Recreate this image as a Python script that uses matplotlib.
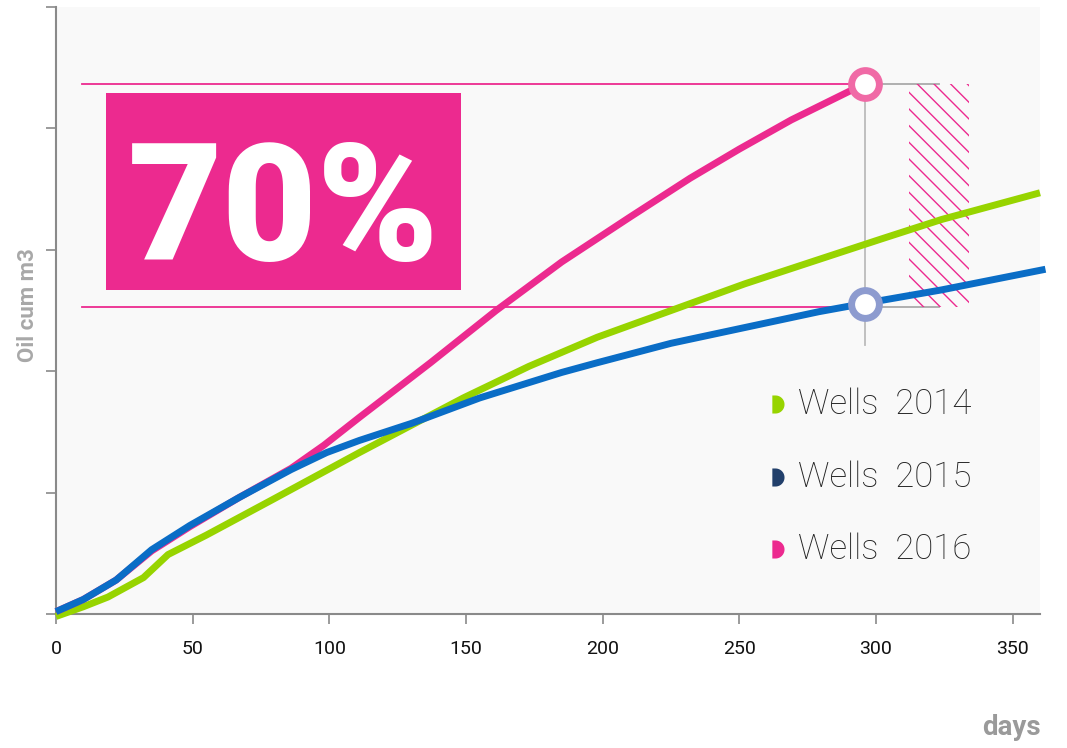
import matplotlib.pyplot as plt
import numpy as np
from matplotlib.patches import Rectangle
from matplotlib.path import Path

# cumulative oil curves (days, relative units)
days_2014 = [0, 10, 19, 32, 41, 55, 79, 111, 149, 173, 198, 225, 252, 279, 302, 324, 360]
oil_2014 = [-0.02, 0.06, 0.14, 0.30, 0.49, 0.65, 0.94, 1.33, 1.78, 2.04, 2.28, 2.50, 2.72, 2.92, 3.09, 3.25, 3.47]

days_2015 = [0, 10, 22, 35, 49, 67, 86, 99, 111, 130, 155, 185, 198, 225, 252, 279, 296, 324, 362]
oil_2015 = [0.02, 0.12, 0.28, 0.53, 0.73, 0.96, 1.19, 1.33, 1.43, 1.57, 1.78, 1.99, 2.07, 2.23, 2.36, 2.49, 2.56, 2.67, 2.84]

days_2016 = [0, 10, 22, 35, 49, 67, 86, 98, 111, 137, 161, 185, 210, 232, 250, 269, 287, 296]
oil_2016 = [0.02, 0.12, 0.28, 0.52, 0.72, 0.96, 1.20, 1.39, 1.62, 2.07, 2.50, 2.90, 3.27, 3.59, 3.83, 4.07, 4.27, 4.37]

series_labels = ["Wells  2014", "Wells  2015", "Wells  2016"]
series_colors = ["#97d400", "#0a6dc6", "#ec2a8f"]
legend_marker_colors = ["#97d400", "#22406b", "#ec2a8f"]

x_ticks = [0, 50, 100, 150, 200, 250, 300, 350]
y_ticks = [0, 1, 2, 3, 4, 5]

compare_day = 296
level_high = 4.37
level_low = 2.53
gain_text = "70%"

plt.rcParams["hatch.color"] = "#ec2a8f"
plt.rcParams["hatch.linewidth"] = 1.0

# "D" shaped legend marker: flat left side, round right side
ang = np.linspace(-np.pi / 2, np.pi / 2, 30)
d_verts = np.column_stack([np.cos(ang), np.sin(ang)])
d_verts = np.vstack([[-0.35, -1.0], d_verts, [-0.35, 1.0], [-0.35, -1.0]])
d_marker = Path(d_verts)

fig = plt.figure(figsize=(10.67, 7.48), dpi=100)
ax = fig.add_axes([0.0525, 0.1791, 0.9222, 0.8115])
ax.set_facecolor("#f9f9f9")
ax.set_xlim(0, 360)
ax.set_ylim(0, 5)

for sp in ["top", "right"]:
    ax.spines[sp].set_visible(False)
for sp in ["left", "bottom"]:
    ax.spines[sp].set_color("#8a8a8a")
    ax.spines[sp].set_linewidth(1.5)

ax.set_xticks(x_ticks)
ax.set_xticklabels([str(t) for t in x_ticks], fontsize=14, family="Roboto", color="#111111")
ax.set_yticks(y_ticks)
ax.set_yticklabels([])
ax.tick_params(axis="both", color="#8a8a8a", length=7, width=1.2)
ax.tick_params(axis="x", pad=12)

# reference lines and the gap marker
ax.plot([9.5, compare_day], [level_high, level_high], color="#ec2a8f", lw=1.3, zorder=2)
ax.plot([9.5, compare_day], [level_low, level_low], color="#ec2a8f", lw=1.3, zorder=2)
ax.plot([compare_day, 323], [level_high, level_high], color="#aaaaaa", lw=1.3, zorder=2)
ax.plot([compare_day, 323], [level_low, level_low], color="#aaaaaa", lw=1.3, zorder=2)
ax.plot([compare_day, compare_day], [2.22, level_high], color="#bbbbbb", lw=1.3, zorder=2)

ax.add_patch(Rectangle((312, level_low), 22, level_high - level_low, facecolor="none",
                       edgecolor="#ec2a8f", hatch="\\\\", lw=0, zorder=2))

ax.plot(days_2014, oil_2014, color=series_colors[0], lw=5, solid_capstyle="butt",
        solid_joinstyle="round", zorder=3, clip_on=False)
ax.plot(days_2016, oil_2016, color=series_colors[2], lw=5, solid_capstyle="butt",
        solid_joinstyle="round", zorder=3, clip_on=False)
ax.plot(days_2015, oil_2015, color=series_colors[1], lw=5, solid_capstyle="butt",
        solid_joinstyle="round", zorder=4, clip_on=False)

ax.plot([compare_day], [level_high], "o", ms=20, mfc="white", mec="#f06aa6", mew=5, zorder=6)
ax.plot([compare_day], [2.55], "o", ms=20, mfc="white", mec="#8d9bcf", mew=5, zorder=6)

# big percentage box
ax.add_patch(Rectangle((18.3, 2.67), 129.9, 1.62, facecolor="#ec2a8f", edgecolor="none", zorder=5))
ax.text(83.2, 3.28, gain_text, color="white", fontsize=118, fontweight="heavy",
        family="Roboto", ha="center", va="center", zorder=6)

# legend
legend_y = [1.73, 1.13, 0.535]
for lab, c, ly in zip(series_labels, legend_marker_colors, legend_y):
    ax.plot([263], [ly], marker=d_marker, ms=13, color=c, mec="none", mew=0,
            ls="none", zorder=6)
    ax.text(271.5, ly, lab, fontsize=25, family="Roboto", fontweight="light",
            color="#222222", va="center", ha="left", zorder=6)

fig.text(0.026, 0.592, "Oil cum m3", rotation=90, fontsize=16, fontweight="bold",
         family="Roboto", color="#a8a8a8", ha="center", va="center")
fig.text(0.975, 0.01, "days", fontsize=20, fontweight="bold", family="Roboto",
         color="#9a9a9a", ha="right", va="bottom")

fig.savefig("out.png", dpi=100)
